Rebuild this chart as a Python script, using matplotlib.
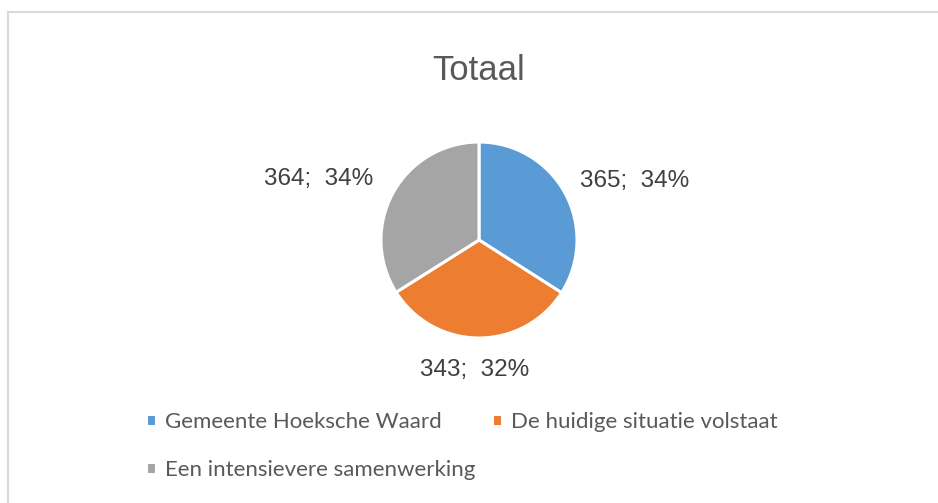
import numpy as np
import matplotlib
matplotlib.use("Agg")
import matplotlib.pyplot as plt
from matplotlib.lines import Line2D

categories = ["Gemeente Hoeksche Waard", "De huidige situatie volstaat", "Een intensievere samenwerking"]
values = [365, 343, 364]
colors = ["#5B9BD5", "#ED7D31", "#A5A5A5"]
title = "Totaal"

W, H = 938, 503
fig = plt.figure(figsize=(W / 100, H / 100), dpi=100)
ax = fig.add_axes([0, 0, 1, 1])
ax.axis("off")

# chart border (only top and left visible in the crop)
ax.add_line(Line2D([7.5, W], [H - 11.5, H - 11.5], color="#D9D9D9", lw=1.5))
ax.add_line(Line2D([7.5, 7.5], [0, H - 11.5], color="#D9D9D9", lw=1.5))

cx, cy, r = 479, 263, 98
total = sum(values)
wedges, _ = ax.pie(values, colors=colors, startangle=90, counterclock=False,
                   center=(cx, cy), radius=r,
                   wedgeprops=dict(edgecolor="white", linewidth=2.2))
ax.set_xlim(0, W)
ax.set_ylim(0, H)
ax.set_aspect("equal")

# data labels "value; pct" placed around the wedges
dist = [1.70, 1.33, 1.75]
shift = [-8, -1.8, 8]  # degrees, tweak like Excel's best fit
for w, v, d, s in zip(wedges, values, dist, shift):
    ang = np.deg2rad((w.theta1 + w.theta2) / 2 + s)
    x = cx + d * r * np.cos(ang)
    y = cy + d * r * np.sin(ang)
    ax.text(x, y, f"{v};  {round(100 * v / total)}%", ha="center", va="center",
            fontsize=17.5, color="#404040", family="Liberation Sans")

ax.text(479, H - 70, title, ha="center", va="center", fontsize=25,
        color="#595959", family="Liberation Sans")

# excel fills the legend row by row
order = [0, 2, 1]
leg = ax.legend([wedges[i] for i in order], [categories[i] for i in order],
                ncol=2, loc="upper left",
                bbox_to_anchor=(126 / W, (H - 392) / H), frameon=False,
                handlelength=0.45, handleheight=0.45,
                handletextpad=0.4, columnspacing=0.75, labelspacing=1.25,
                prop=dict(family="Lato", size=16))
for t in leg.get_texts():
    t.set_color("#595959")

fig.savefig("out.png", dpi=100, facecolor="white")
